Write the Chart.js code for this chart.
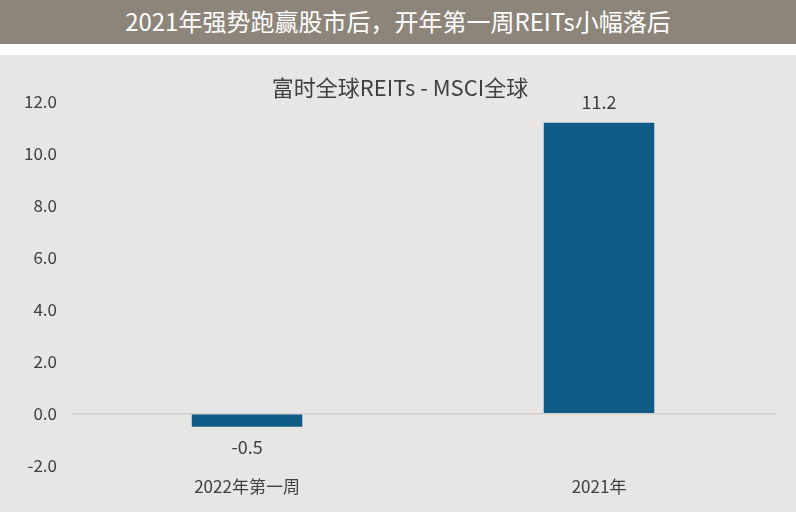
<!DOCTYPE html>
<html><head><meta charset="utf-8">
<script src="https://cdn.jsdelivr.net/npm/chart.js@4"></script>
<style>
body{margin:0;width:796px;height:512px;background:#fff;font-family:"Noto Sans CJK SC";overflow:hidden}
#hd{position:absolute;left:0;top:0;width:796px;height:44px;background:#8d857a;color:#fff;font-size:24px;text-align:center;line-height:42px}
#wrap{position:absolute;left:0;top:55px;width:796px;height:457px;background:#e8e6e4}
</style></head><body>
<div id="hd">2021年强势跑赢股市后，开年第一周REITs小幅落后</div>
<div id="wrap"><canvas id="c"></canvas></div>
<script>
const categories=["2022年第一周","2021年"];
const values=[-0.5,11.2];
const chartTitle="富时全球REITs - MSCI全球";
const labelPlugin={id:'lbl',afterDatasetsDraw(ch){const ctx=ch.ctx;const m=ch.getDatasetMeta(0);ctx.save();ctx.font='18px "Noto Sans CJK SC"';ctx.fillStyle='#404040';ctx.textAlign='center';
m.data.forEach((b,i)=>{const v=values[i];ctx.textBaseline=v>=0?'bottom':'top';ctx.fillText(v.toFixed(1),b.x,v>=0?b.y-12:b.y+12);});
ctx.font='22px "Noto Sans CJK SC"';ctx.textBaseline='middle';ctx.fillText(chartTitle,400,33);ctx.restore();}};
new Chart(document.getElementById('c'),{type:'bar',data:{labels:categories,datasets:[{data:values,backgroundColor:'#0e5c85',categoryPercentage:1,barPercentage:0.314}]},
plugins:[labelPlugin],
options:{responsive:true,maintainAspectRatio:false,animation:false,layout:{padding:{top:47,right:21,left:10,bottom:12}},
plugins:{legend:{display:false},tooltip:{enabled:false}},
scales:{x:{grid:{display:false},border:{display:false},ticks:{color:'#404040',font:{size:17,family:'Noto Sans CJK SC'}}},
y:{min:-2,max:12,ticks:{stepSize:2,color:'#404040',padding:14,font:{size:17,family:'Noto Sans CJK SC'},callback:v=>v.toFixed(1)},border:{display:false},
grid:{drawTicks:false,color:c=>c.tick&&c.tick.value===0?'#cfcfcf':'transparent',lineWidth:1.5}}}}});
</script></body></html>
